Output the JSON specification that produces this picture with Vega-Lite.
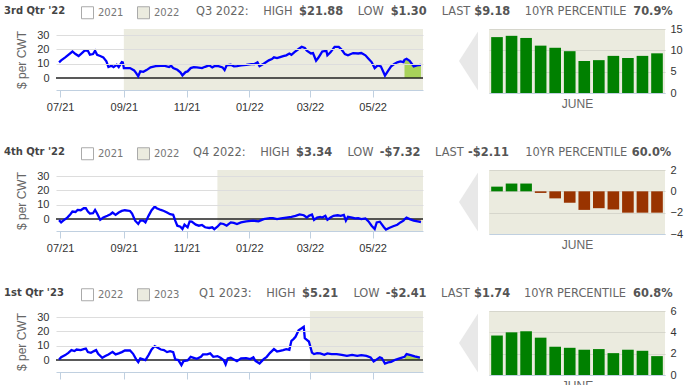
{
"$schema": "https://vega.github.io/schema/vega-lite/v6.json",
"background": "#ffffff",
"padding": {"left": 4, "top": 5, "right": 5, "bottom": 0},
"config": {
  "view": {"stroke": null},
  "font": "Liberation Sans",
  "axis": {"labelFont": "Liberation Sans", "labelFontSize": 11, "labelColor": "#333333", "titleFont": "Liberation Sans", "titleFontSize": 12, "titleFontWeight": "normal", "titleColor": "#666666"}
},
"columns": 3,
"bounds": "flush",
"spacing": {"row": 77, "column": 23},
"resolve": {"scale": {"color": "independent"}, "legend": {"color": "independent"}},
"datasets": {
  "s1": [{"period": "2021", "date": "2021-06-27", "end": "2021-09-01"}, {"period": "2022", "date": "2021-09-01", "end": "2022-06-19"}],
  "s2": [{"period": "2021", "date": "2021-06-27", "end": "2021-12-01"}, {"period": "2022", "date": "2021-12-01", "end": "2022-06-19"}],
  "s3": [{"period": "2022", "date": "2021-06-27", "end": "2022-03-01"}, {"period": "2023", "date": "2022-03-01", "end": "2022-06-19"}],
  "b1": [{"yr": 2011, "v": 13.1}, {"yr": 2012, "v": 13.4}, {"yr": 2013, "v": 12.9}, {"yr": 2014, "v": 11.1}, {"yr": 2015, "v": 10.6}, {"yr": 2016, "v": 9.8}, {"yr": 2017, "v": 7.5}, {"yr": 2018, "v": 7.7}, {"yr": 2019, "v": 8.7}, {"yr": 2020, "v": 8.2}, {"yr": 2021, "v": 8.7}, {"yr": 2022, "v": 9.3}],
  "b2": [{"yr": 2011, "v": 0.44}, {"yr": 2012, "v": 0.73}, {"yr": 2013, "v": 0.73}, {"yr": 2014, "v": -0.15}, {"yr": 2015, "v": -0.66}, {"yr": 2016, "v": -1.07}, {"yr": 2017, "v": -1.74}, {"yr": 2018, "v": -1.58}, {"yr": 2019, "v": -1.7}, {"yr": 2020, "v": -2.0}, {"yr": 2021, "v": -2.0}, {"yr": 2022, "v": -2.0}],
  "b3": [{"yr": 2011, "v": 3.7}, {"yr": 2012, "v": 4.0}, {"yr": 2013, "v": 4.1}, {"yr": 2014, "v": 3.5}, {"yr": 2015, "v": 2.65}, {"yr": 2016, "v": 2.55}, {"yr": 2017, "v": 2.37}, {"yr": 2018, "v": 2.43}, {"yr": 2019, "v": 2.05}, {"yr": 2020, "v": 2.37}, {"yr": 2021, "v": 2.27}, {"yr": 2022, "v": 1.77}],
  "r1": [
    {"date": "2021-06-30", "v": 11.0}, {"date": "2021-07-02", "v": 12.4}, {"date": "2021-07-06", "v": 14.5}, {"date": "2021-07-09", "v": 16.3}, {"date": "2021-07-13", "v": 18.6}, {"date": "2021-07-16", "v": 16.8}, {"date": "2021-07-19", "v": 15.4}, {"date": "2021-07-23", "v": 18.0}, {"date": "2021-07-25", "v": 19.3}, {"date": "2021-07-28", "v": 19.1}, {"date": "2021-07-30", "v": 16.3},
    {"date": "2021-08-02", "v": 16.8}, {"date": "2021-08-04", "v": 19.1}, {"date": "2021-08-06", "v": 16.3}, {"date": "2021-08-09", "v": 15.4}, {"date": "2021-08-12", "v": 14.5}, {"date": "2021-08-15", "v": 11.7}, {"date": "2021-08-17", "v": 7.7}, {"date": "2021-08-20", "v": 8.6}, {"date": "2021-08-22", "v": 7.7}, {"date": "2021-08-25", "v": 9.3}, {"date": "2021-08-27", "v": 7.7}, {"date": "2021-08-30", "v": 11.2}, {"date": "2021-08-31", "v": 11.0},
    {"date": "2021-09-01", "v": 7.0}, {"date": "2021-09-07", "v": 7.0}, {"date": "2021-09-11", "v": 5.4}, {"date": "2021-09-13", "v": 3.5}, {"date": "2021-09-15", "v": 1.3}, {"date": "2021-09-17", "v": 4.7}, {"date": "2021-09-20", "v": 4.4}, {"date": "2021-09-23", "v": 5.6}, {"date": "2021-09-27", "v": 7.5},
    {"date": "2021-10-02", "v": 8.4}, {"date": "2021-10-07", "v": 8.6}, {"date": "2021-10-11", "v": 8.6}, {"date": "2021-10-15", "v": 7.7}, {"date": "2021-10-17", "v": 8.6}, {"date": "2021-10-19", "v": 7.0}, {"date": "2021-10-23", "v": 5.8}, {"date": "2021-10-26", "v": 4.0}, {"date": "2021-10-28", "v": 1.9}, {"date": "2021-10-31", "v": 4.2},
    {"date": "2021-11-02", "v": 4.7}, {"date": "2021-11-05", "v": 7.0}, {"date": "2021-11-08", "v": 7.7}, {"date": "2021-11-11", "v": 7.5}, {"date": "2021-11-16", "v": 7.0}, {"date": "2021-11-19", "v": 7.9}, {"date": "2021-11-23", "v": 8.9}, {"date": "2021-11-26", "v": 7.5}, {"date": "2021-11-29", "v": 8.6},
    {"date": "2021-12-02", "v": 8.4}, {"date": "2021-12-06", "v": 7.5}, {"date": "2021-12-08", "v": 5.6}, {"date": "2021-12-10", "v": 8.9}, {"date": "2021-12-14", "v": 9.3}, {"date": "2021-12-17", "v": 8.2}, {"date": "2021-12-20", "v": 8.4}, {"date": "2021-12-24", "v": 8.9}, {"date": "2021-12-29", "v": 9.3},
    {"date": "2022-01-03", "v": 9.8}, {"date": "2022-01-06", "v": 9.8}, {"date": "2022-01-09", "v": 11.0}, {"date": "2022-01-11", "v": 8.4}, {"date": "2022-01-15", "v": 10.0}, {"date": "2022-01-20", "v": 12.4}, {"date": "2022-01-23", "v": 13.3}, {"date": "2022-01-25", "v": 14.5}, {"date": "2022-01-28", "v": 14.0}, {"date": "2022-01-31", "v": 14.7},
    {"date": "2022-02-03", "v": 15.4}, {"date": "2022-02-06", "v": 15.9}, {"date": "2022-02-09", "v": 17.2}, {"date": "2022-02-11", "v": 16.3}, {"date": "2022-02-14", "v": 18.2}, {"date": "2022-02-18", "v": 20.3}, {"date": "2022-02-21", "v": 21.88}, {"date": "2022-02-24", "v": 21.0}, {"date": "2022-02-26", "v": 19.1},
    {"date": "2022-03-02", "v": 17.2}, {"date": "2022-03-04", "v": 17.5}, {"date": "2022-03-07", "v": 12.1}, {"date": "2022-03-09", "v": 14.0}, {"date": "2022-03-11", "v": 16.3}, {"date": "2022-03-13", "v": 18.6}, {"date": "2022-03-17", "v": 19.1}, {"date": "2022-03-18", "v": 15.9}, {"date": "2022-03-21", "v": 18.0}, {"date": "2022-03-25", "v": 21.8}, {"date": "2022-03-29", "v": 21.8},
    {"date": "2022-04-01", "v": 19.8}, {"date": "2022-04-04", "v": 16.8}, {"date": "2022-04-07", "v": 15.9}, {"date": "2022-04-12", "v": 17.5}, {"date": "2022-04-17", "v": 17.2}, {"date": "2022-04-20", "v": 17.5}, {"date": "2022-04-24", "v": 15.9}, {"date": "2022-04-27", "v": 13.5}, {"date": "2022-04-30", "v": 11.2},
    {"date": "2022-05-03", "v": 7.0}, {"date": "2022-05-06", "v": 8.9}, {"date": "2022-05-09", "v": 8.2}, {"date": "2022-05-13", "v": 1.8}, {"date": "2022-05-16", "v": 5.1}, {"date": "2022-05-19", "v": 8.2}, {"date": "2022-05-22", "v": 9.8}, {"date": "2022-05-25", "v": 11.0}, {"date": "2022-05-28", "v": 11.7}, {"date": "2022-05-31", "v": 11.2},
    {"date": "2022-06-01", "v": 12.8}, {"date": "2022-06-03", "v": 13.5}, {"date": "2022-06-06", "v": 12.1}, {"date": "2022-06-10", "v": 8.2}, {"date": "2022-06-13", "v": 8.9}, {"date": "2022-06-17", "v": 9.18}
  ],
  "r2": [
    {"date": "2021-06-30", "v": -0.7}, {"date": "2021-07-02", "v": -2.3}, {"date": "2021-07-04", "v": -1.1}, {"date": "2021-07-08", "v": 1.1}, {"date": "2021-07-11", "v": 3.4}, {"date": "2021-07-13", "v": 5.3}, {"date": "2021-07-16", "v": 5.0}, {"date": "2021-07-18", "v": 6.4}, {"date": "2021-07-21", "v": 6.2}, {"date": "2021-07-24", "v": 7.6}, {"date": "2021-07-26", "v": 7.6}, {"date": "2021-07-28", "v": 5.3}, {"date": "2021-07-30", "v": 3.9},
    {"date": "2021-08-02", "v": 4.1}, {"date": "2021-08-04", "v": 6.4}, {"date": "2021-08-06", "v": 3.9}, {"date": "2021-08-09", "v": -0.5}, {"date": "2021-08-12", "v": 1.1}, {"date": "2021-08-16", "v": 2.3}, {"date": "2021-08-19", "v": 3.4}, {"date": "2021-08-21", "v": 4.6}, {"date": "2021-08-24", "v": 3.0}, {"date": "2021-08-27", "v": 4.6}, {"date": "2021-08-30", "v": 5.7},
    {"date": "2021-09-02", "v": 6.2}, {"date": "2021-09-07", "v": 5.7}, {"date": "2021-09-09", "v": 3.9}, {"date": "2021-09-12", "v": -1.1}, {"date": "2021-09-15", "v": -3.4}, {"date": "2021-09-17", "v": -1.1}, {"date": "2021-09-20", "v": -1.1}, {"date": "2021-09-22", "v": -2.3}, {"date": "2021-09-25", "v": 2.3}, {"date": "2021-09-28", "v": 6.2},
    {"date": "2021-10-01", "v": 8.7}, {"date": "2021-10-03", "v": 7.6}, {"date": "2021-10-07", "v": 6.4}, {"date": "2021-10-10", "v": 5.7}, {"date": "2021-10-13", "v": 4.6}, {"date": "2021-10-16", "v": 3.4}, {"date": "2021-10-19", "v": 3.0}, {"date": "2021-10-21", "v": -1.1}, {"date": "2021-10-23", "v": -4.6}, {"date": "2021-10-26", "v": -5.3}, {"date": "2021-10-28", "v": -6.9}, {"date": "2021-10-30", "v": -3.9},
    {"date": "2021-11-02", "v": -5.7}, {"date": "2021-11-04", "v": -1.6}, {"date": "2021-11-06", "v": -1.8}, {"date": "2021-11-10", "v": -3.9}, {"date": "2021-11-13", "v": -4.6}, {"date": "2021-11-16", "v": -4.1}, {"date": "2021-11-19", "v": -5.7}, {"date": "2021-11-23", "v": -6.2}, {"date": "2021-11-26", "v": -5.7}, {"date": "2021-11-28", "v": -7.0},
    {"date": "2021-12-01", "v": -5.3}, {"date": "2021-12-04", "v": -3.0}, {"date": "2021-12-07", "v": -3.4}, {"date": "2021-12-10", "v": -4.6}, {"date": "2021-12-14", "v": -2.3}, {"date": "2021-12-17", "v": -2.7}, {"date": "2021-12-20", "v": -3.4}, {"date": "2021-12-24", "v": -2.3}, {"date": "2021-12-29", "v": -1.6},
    {"date": "2022-01-05", "v": -1.1}, {"date": "2022-01-10", "v": -1.6}, {"date": "2022-01-15", "v": 0.0}, {"date": "2022-01-21", "v": 0.7}, {"date": "2022-01-24", "v": 0.7}, {"date": "2022-01-28", "v": 0.0},
    {"date": "2022-02-01", "v": 0.5}, {"date": "2022-02-06", "v": 1.1}, {"date": "2022-02-11", "v": 1.6}, {"date": "2022-02-15", "v": 2.3}, {"date": "2022-02-19", "v": 3.34}, {"date": "2022-02-23", "v": 2.7}, {"date": "2022-02-26", "v": 1.1}, {"date": "2022-02-28", "v": 2.3},
    {"date": "2022-03-03", "v": 3.2}, {"date": "2022-03-05", "v": -0.5}, {"date": "2022-03-08", "v": 1.1}, {"date": "2022-03-11", "v": 1.6}, {"date": "2022-03-13", "v": 1.1}, {"date": "2022-03-16", "v": 2.3}, {"date": "2022-03-18", "v": -0.5}, {"date": "2022-03-21", "v": 1.1}, {"date": "2022-03-24", "v": 2.3}, {"date": "2022-03-28", "v": 2.7}, {"date": "2022-03-31", "v": 2.3},
    {"date": "2022-04-03", "v": 3.0}, {"date": "2022-04-05", "v": -1.1}, {"date": "2022-04-07", "v": 1.6}, {"date": "2022-04-11", "v": 1.1}, {"date": "2022-04-14", "v": 0.5}, {"date": "2022-04-17", "v": 0.7}, {"date": "2022-04-20", "v": 0.0}, {"date": "2022-04-24", "v": 0.5}, {"date": "2022-04-27", "v": -1.6}, {"date": "2022-04-30", "v": -4.6},
    {"date": "2022-05-03", "v": -6.9}, {"date": "2022-05-05", "v": -2.3}, {"date": "2022-05-08", "v": -1.8}, {"date": "2022-05-12", "v": -5.7}, {"date": "2022-05-14", "v": -7.32}, {"date": "2022-05-17", "v": -6.2}, {"date": "2022-05-21", "v": -5.0}, {"date": "2022-05-25", "v": -3.9}, {"date": "2022-05-28", "v": -2.3}, {"date": "2022-05-31", "v": -1.1},
    {"date": "2022-06-01", "v": -0.2}, {"date": "2022-06-03", "v": 1.1}, {"date": "2022-06-06", "v": 0.0}, {"date": "2022-06-10", "v": -1.1}, {"date": "2022-06-15", "v": -1.8}, {"date": "2022-06-17", "v": -2.11}
  ],
  "r3": [
    {"date": "2021-06-30", "v": 0.5}, {"date": "2021-07-02", "v": 2.1}, {"date": "2021-07-06", "v": 3.5}, {"date": "2021-07-09", "v": 5.1}, {"date": "2021-07-12", "v": 7.0}, {"date": "2021-07-15", "v": 6.3}, {"date": "2021-07-17", "v": 7.4}, {"date": "2021-07-21", "v": 7.0}, {"date": "2021-07-24", "v": 7.7}, {"date": "2021-07-26", "v": 8.1}, {"date": "2021-07-28", "v": 5.6}, {"date": "2021-07-31", "v": 5.1},
    {"date": "2021-08-03", "v": 6.3}, {"date": "2021-08-05", "v": 7.0}, {"date": "2021-08-07", "v": 4.4}, {"date": "2021-08-11", "v": 1.6}, {"date": "2021-08-14", "v": 2.8}, {"date": "2021-08-17", "v": 4.0}, {"date": "2021-08-21", "v": 5.8}, {"date": "2021-08-24", "v": 4.0}, {"date": "2021-08-27", "v": 4.7}, {"date": "2021-08-30", "v": 5.6},
    {"date": "2021-09-02", "v": 6.7}, {"date": "2021-09-07", "v": 6.7}, {"date": "2021-09-10", "v": 4.4}, {"date": "2021-09-13", "v": 0.5}, {"date": "2021-09-15", "v": -1.4}, {"date": "2021-09-17", "v": 1.2}, {"date": "2021-09-22", "v": 0.0}, {"date": "2021-09-25", "v": 3.5}, {"date": "2021-09-28", "v": 7.4},
    {"date": "2021-10-01", "v": 9.8}, {"date": "2021-10-04", "v": 8.6}, {"date": "2021-10-07", "v": 7.4}, {"date": "2021-10-10", "v": 7.0}, {"date": "2021-10-13", "v": 5.6}, {"date": "2021-10-16", "v": 6.3}, {"date": "2021-10-19", "v": 5.6}, {"date": "2021-10-21", "v": 0.5}, {"date": "2021-10-24", "v": 0.0}, {"date": "2021-10-27", "v": -3.5}, {"date": "2021-10-29", "v": -0.7},
    {"date": "2021-11-02", "v": -0.2}, {"date": "2021-11-05", "v": 2.3}, {"date": "2021-11-08", "v": 1.6}, {"date": "2021-11-11", "v": 0.9}, {"date": "2021-11-15", "v": 2.3}, {"date": "2021-11-17", "v": 4.0}, {"date": "2021-11-21", "v": 4.0}, {"date": "2021-11-24", "v": 4.7}, {"date": "2021-11-27", "v": 2.3},
    {"date": "2021-12-01", "v": 2.8}, {"date": "2021-12-04", "v": 1.6}, {"date": "2021-12-07", "v": 0.0}, {"date": "2021-12-09", "v": -3.0}, {"date": "2021-12-11", "v": 1.2}, {"date": "2021-12-14", "v": 1.6}, {"date": "2021-12-17", "v": 0.5}, {"date": "2021-12-20", "v": -0.7}, {"date": "2021-12-24", "v": 1.2}, {"date": "2021-12-29", "v": 1.4},
    {"date": "2022-01-02", "v": 0.7}, {"date": "2022-01-05", "v": 1.9}, {"date": "2022-01-07", "v": -0.5}, {"date": "2022-01-11", "v": -2.3}, {"date": "2022-01-15", "v": 0.7}, {"date": "2022-01-18", "v": 2.3}, {"date": "2022-01-21", "v": 4.9}, {"date": "2022-01-25", "v": 7.7}, {"date": "2022-01-28", "v": 6.0}, {"date": "2022-01-31", "v": 6.5},
    {"date": "2022-02-03", "v": 7.0}, {"date": "2022-02-06", "v": 7.7}, {"date": "2022-02-09", "v": 7.2}, {"date": "2022-02-11", "v": 13.5}, {"date": "2022-02-13", "v": 14.7}, {"date": "2022-02-15", "v": 16.3}, {"date": "2022-02-18", "v": 20.9}, {"date": "2022-02-21", "v": 22.3}, {"date": "2022-02-23", "v": 23.3}, {"date": "2022-02-24", "v": 15.3}, {"date": "2022-02-26", "v": 14.2}, {"date": "2022-02-28", "v": 13.0},
    {"date": "2022-03-03", "v": 5.21}, {"date": "2022-03-05", "v": 4.2}, {"date": "2022-03-08", "v": 4.9}, {"date": "2022-03-11", "v": 4.7}, {"date": "2022-03-15", "v": 3.7}, {"date": "2022-03-18", "v": 4.7}, {"date": "2022-03-22", "v": 4.2}, {"date": "2022-03-27", "v": 4.2},
    {"date": "2022-04-01", "v": 3.7}, {"date": "2022-04-06", "v": 3.0}, {"date": "2022-04-11", "v": 3.7}, {"date": "2022-04-16", "v": 3.0}, {"date": "2022-04-20", "v": 3.5}, {"date": "2022-04-25", "v": 3.0}, {"date": "2022-04-29", "v": 1.9},
    {"date": "2022-05-02", "v": -0.9}, {"date": "2022-05-04", "v": 0.0}, {"date": "2022-05-08", "v": 1.9}, {"date": "2022-05-10", "v": 1.4}, {"date": "2022-05-13", "v": -2.41}, {"date": "2022-05-16", "v": -1.6}, {"date": "2022-05-19", "v": -1.2}, {"date": "2022-05-23", "v": 0.2}, {"date": "2022-05-28", "v": 1.4},
    {"date": "2022-06-01", "v": 2.3}, {"date": "2022-06-03", "v": 4.2}, {"date": "2022-06-07", "v": 3.5}, {"date": "2022-06-11", "v": 2.6}, {"date": "2022-06-16", "v": 1.74}
  ]
},
"concat": [
  {
    "width": 367, "height": 61,
    "resolve": {"axis": {"x": "independent", "y": "independent"}},
    "layer": [
      {"data": {"name": "s1"}, "mark": {"type": "rect"},
       "encoding": {
         "x": {"field": "date", "type": "temporal", "scale": {"type": "utc", "domain": [{"year": 2021, "month": 6, "date": 27, "utc": true}, {"year": 2022, "month": 6, "date": 19, "utc": true}]},
               "axis": {"title": null, "values": [{"year": 2021, "month": 7, "date": 1, "utc": true}, {"year": 2021, "month": 9, "date": 1, "utc": true}, {"year": 2021, "month": 11, "date": 1, "utc": true}, {"year": 2022, "month": 1, "date": 1, "utc": true}, {"year": 2022, "month": 3, "date": 1, "utc": true}, {"year": 2022, "month": 5, "date": 1, "utc": true}], "labelExpr": "utcFormat(datum.value, '%m/%y')", "grid": false, "domainColor": "#c0d0e0", "tickColor": "#c0d0e0", "tickSize": 7, "labelPadding": 4, "labelFlush": false, "labelOverlap": false}},
         "x2": {"field": "end"},
         "color": {"field": "period", "type": "nominal", "scale": {"domain": ["2021", "2022"], "range": ["#ffffff", "#ebebdf"]},
                   "legend": {"orient": "none", "legendX": 25, "legendY": -23, "direction": "horizontal", "title": null, "symbolType": "square", "symbolSize": 144, "labelFont": "DejaVu Sans", "labelFontSize": 10, "labelColor": "#777777", "columnPadding": 11, "labelOffset": 4, "padding": 0, "symbolStrokeColor": "#aaaaaa", "symbolStrokeWidth": 1, "encode": {"symbols": {"update": {"stroke": {"value": "#aaaaaa"}, "strokeWidth": {"value": 1}}}}}}
       }},
      {"data": {"name": "r1"}, "transform": [{"filter": {"field": "date", "gte": {"year": 2022, "month": 6, "date": 1, "utc": true}}}],
       "mark": {"type": "area", "color": "#a8d25a", "opacity": 1},
       "encoding": {
         "x": {"field": "date", "type": "temporal", "axis": null},
         "y": {"field": "v", "type": "quantitative", "axis": null, "scale": {"domain": [-8.3, 34.3], "nice": false, "zero": false}},
         "y2": {"datum": 0}
       }},
      {"data": {"values": [{"z": 0}]}, "mark": {"type": "rule", "color": "#222222", "strokeWidth": 1.5},
       "encoding": {"y": {"datum": 0, "type": "quantitative", "axis": null}}},
      {"data": {"name": "r1"}, "mark": {"type": "line", "color": "#0000ff", "strokeWidth": 2.3},
       "encoding": {
         "x": {"field": "date", "type": "temporal", "axis": null},
         "y": {"field": "v", "type": "quantitative", "scale": {"domain": [-8.3, 34.3], "nice": false, "zero": false},
               "axis": {"title": "$ per CWT", "values": [0, 10, 20, 30], "grid": true, "gridColor": {"condition": {"test": "datum.value === 0", "value": "transparent"}, "value": "#dddddd"}, "domain": false, "ticks": false, "tickSize": 0, "labelPadding": 7, "titlePadding": 8, "labelOverlap": false, "zindex": 1}}
       }}
    ]
  },
  {
    "width": 20, "height": 64,
    "data": {"values": [{"k": 1}]},
    "mark": {"type": "point", "shape": "M0.102,0L0.746,-1L0.746,1Z", "filled": true, "color": "#e8e8e8", "size": 3481, "opacity": 1, "strokeWidth": 0},
    "encoding": {},
    "title": {"text": "3rd Qtr '22", "anchor": "start", "frame": "group", "dx": -442, "offset": 13, "font": "DejaVu Sans", "fontSize": 10, "fontWeight": "bold", "color": "#444444"}
  },
  {
    "width": 176, "height": 64,
    "data": {"name": "b1"},
    "view": {"fill": "#ebebdf", "stroke": null},
    "mark": {"type": "bar", "color": "#008000"},
    "encoding": {
      "x": {"field": "yr", "type": "ordinal", "scale": {"paddingInner": 0.2, "paddingOuter": 0.15}, "axis": {"title": "JUNE", "labels": false, "ticks": false, "domainColor": "#c0d0e0", "titlePadding": 5}},
      "y": {"field": "v", "type": "quantitative", "scale": {"domain": [0, 15], "nice": false}, "axis": {"orient": "right", "title": null, "values": [0, 5, 10, 15], "domain": false, "ticks": false, "tickSize": 0, "labelPadding": 5, "grid": true, "gridColor": "#d6d6cc"}}
    },
    "title": {"text": "Q3 2022:\u00a0\u00a0\u00a0\u00a0HIGH\u00a0\u00a0\u00a0\u00a0\u00a0\u00a0\u00a0\u00a0\u00a0\u00a0\u00a0\u00a0\u00a0\u00a0\u00a0\u00a0\u00a0\u00a0LOW\u00a0\u00a0\u00a0\u00a0\u00a0\u00a0\u00a0\u00a0\u00a0\u00a0\u00a0\u00a0\u00a0\u00a0\u00a0\u00a0LAST\u00a0\u00a0\u00a0\u00a0\u00a0\u00a0\u00a0\u00a0\u00a0\u00a0\u00a0\u00a0\u00a0\u00a0\u00a010YR PERCENTILE",
              "subtitle": "\u200b\u00a0\u00a0\u00a0\u00a0\u00a0\u00a0\u00a0\u00a0\u00a0\u00a0\u00a0\u00a0\u00a0\u00a0\u00a0\u00a0\u00a0\u00a0\u00a0\u00a0\u00a0\u00a0\u00a0\u00a0\u00a0\u00a0$21.88\u00a0\u00a0\u00a0\u00a0\u00a0\u00a0\u00a0\u00a0\u00a0\u00a0\u00a0\u00a0$1.30\u00a0\u00a0\u00a0\u00a0\u00a0\u00a0\u00a0\u00a0\u00a0\u00a0\u00a0\u00a0$9.18\u00a0\u00a0\u00a0\u00a0\u00a0\u00a0\u00a0\u00a0\u00a0\u00a0\u00a0\u00a0\u00a0\u00a0\u00a0\u00a0\u00a0\u00a0\u00a0\u00a0\u00a0\u00a0\u00a0\u00a0\u00a0\u00a0\u00a0\u00a0\u00a0\u00a0\u00a070.9%",
              "anchor": "start", "frame": "group", "dx": -293, "offset": 6, "font": "DejaVu Sans", "fontSize": 11.4, "fontWeight": "normal", "color": "#666666", "subtitleFont": "DejaVu Sans", "subtitleFontSize": 11.4, "subtitleFontWeight": "bold", "subtitleColor": "#555555", "subtitlePadding": -11.4}
  },
  {
    "width": 367, "height": 61,
    "resolve": {"axis": {"x": "independent", "y": "independent"}},
    "layer": [
      {"data": {"name": "s2"}, "mark": {"type": "rect"},
       "encoding": {
         "x": {"field": "date", "type": "temporal", "scale": {"type": "utc", "domain": [{"year": 2021, "month": 6, "date": 27, "utc": true}, {"year": 2022, "month": 6, "date": 19, "utc": true}]},
               "axis": {"title": null, "values": [{"year": 2021, "month": 7, "date": 1, "utc": true}, {"year": 2021, "month": 9, "date": 1, "utc": true}, {"year": 2021, "month": 11, "date": 1, "utc": true}, {"year": 2022, "month": 1, "date": 1, "utc": true}, {"year": 2022, "month": 3, "date": 1, "utc": true}, {"year": 2022, "month": 5, "date": 1, "utc": true}], "labelExpr": "utcFormat(datum.value, '%m/%y')", "grid": false, "domainColor": "#c0d0e0", "tickColor": "#c0d0e0", "tickSize": 7, "labelPadding": 4, "labelFlush": false, "labelOverlap": false}},
         "x2": {"field": "end"},
         "color": {"field": "period", "type": "nominal", "scale": {"domain": ["2021", "2022"], "range": ["#ffffff", "#ebebdf"]},
                   "legend": {"orient": "none", "legendX": 25, "legendY": -23, "direction": "horizontal", "title": null, "symbolType": "square", "symbolSize": 144, "labelFont": "DejaVu Sans", "labelFontSize": 10, "labelColor": "#777777", "columnPadding": 11, "labelOffset": 4, "padding": 0, "symbolStrokeColor": "#aaaaaa", "symbolStrokeWidth": 1, "encode": {"symbols": {"update": {"stroke": {"value": "#aaaaaa"}, "strokeWidth": {"value": 1}}}}}}
       }},
      {"data": {"name": "r2"}, "transform": [{"filter": {"field": "date", "gte": {"year": 2022, "month": 6, "date": 1, "utc": true}}}],
       "mark": {"type": "area", "color": "#d9a06b", "opacity": 1},
       "encoding": {
         "x": {"field": "date", "type": "temporal", "axis": null},
         "y": {"field": "v", "type": "quantitative", "axis": null, "scale": {"domain": [-8.3, 34.3], "nice": false, "zero": false}},
         "y2": {"datum": 0}
       }},
      {"data": {"values": [{"z": 0}]}, "mark": {"type": "rule", "color": "#222222", "strokeWidth": 1.5},
       "encoding": {"y": {"datum": 0, "type": "quantitative", "axis": null}}},
      {"data": {"name": "r2"}, "mark": {"type": "line", "color": "#0000ff", "strokeWidth": 2.3},
       "encoding": {
         "x": {"field": "date", "type": "temporal", "axis": null},
         "y": {"field": "v", "type": "quantitative", "scale": {"domain": [-8.3, 34.3], "nice": false, "zero": false},
               "axis": {"title": "$ per CWT", "values": [0, 10, 20, 30], "grid": true, "gridColor": {"condition": {"test": "datum.value === 0", "value": "transparent"}, "value": "#dddddd"}, "domain": false, "ticks": false, "tickSize": 0, "labelPadding": 7, "titlePadding": 8, "labelOverlap": false, "zindex": 1}}
       }}
    ]
  },
  {
    "width": 20, "height": 64,
    "data": {"values": [{"k": 1}]},
    "mark": {"type": "point", "shape": "M0.102,0L0.746,-1L0.746,1Z", "filled": true, "color": "#e8e8e8", "size": 3481, "opacity": 1, "strokeWidth": 0},
    "encoding": {},
    "title": {"text": "4th Qtr '22", "anchor": "start", "frame": "group", "dx": -442, "offset": 13, "font": "DejaVu Sans", "fontSize": 10, "fontWeight": "bold", "color": "#444444"}
  },
  {
    "width": 176, "height": 64,
    "data": {"name": "b2"},
    "view": {"fill": "#ebebdf", "stroke": null},
    "mark": {"type": "bar"},
    "encoding": {
      "x": {"field": "yr", "type": "ordinal", "scale": {"paddingInner": 0.2, "paddingOuter": 0.15}, "axis": {"title": "JUNE", "labels": false, "ticks": false, "domainColor": "#c0d0e0", "titlePadding": 5}},
      "y": {"field": "v", "type": "quantitative", "scale": {"domain": [-4, 2], "nice": false}, "axis": {"orient": "right", "title": null, "values": [-4, -2, 0, 2], "domain": false, "ticks": false, "tickSize": 0, "labelPadding": 5, "grid": true, "gridColor": "#d6d6cc"}},
      "color": {"condition": {"test": "datum.v < 0", "value": "#993300"}, "value": "#008000"}
    },
    "title": {"text": "Q4 2022:\u00a0\u00a0\u00a0\u00a0HIGH\u00a0\u00a0\u00a0\u00a0\u00a0\u00a0\u00a0\u00a0\u00a0\u00a0\u00a0\u00a0\u00a0\u00a0\u00a0\u00a0LOW\u00a0\u00a0\u00a0\u00a0\u00a0\u00a0\u00a0\u00a0\u00a0\u00a0\u00a0\u00a0\u00a0\u00a0\u00a0\u00a0\u00a0LAST\u00a0\u00a0\u00a0\u00a0\u00a0\u00a0\u00a0\u00a0\u00a0\u00a0\u00a0\u00a0\u00a0\u00a0\u00a0\u00a0\u00a010YR PERCENTILE",
              "subtitle": "\u200b\u00a0\u00a0\u00a0\u00a0\u00a0\u00a0\u00a0\u00a0\u00a0\u00a0\u00a0\u00a0\u00a0\u00a0\u00a0\u00a0\u00a0\u00a0\u00a0\u00a0\u00a0\u00a0\u00a0\u00a0\u00a0\u00a0$3.34\u00a0\u00a0\u00a0\u00a0\u00a0\u00a0\u00a0\u00a0\u00a0\u00a0\u00a0\u00a0-$7.32\u00a0\u00a0\u00a0\u00a0\u00a0\u00a0\u00a0\u00a0\u00a0\u00a0\u00a0\u00a0-$2.11\u00a0\u00a0\u00a0\u00a0\u00a0\u00a0\u00a0\u00a0\u00a0\u00a0\u00a0\u00a0\u00a0\u00a0\u00a0\u00a0\u00a0\u00a0\u00a0\u00a0\u00a0\u00a0\u00a0\u00a0\u00a0\u00a0\u00a0\u00a0\u00a0\u00a0\u00a060.0%",
              "anchor": "start", "frame": "group", "dx": -296, "offset": 6, "font": "DejaVu Sans", "fontSize": 11.4, "fontWeight": "normal", "color": "#666666", "subtitleFont": "DejaVu Sans", "subtitleFontSize": 11.4, "subtitleFontWeight": "bold", "subtitleColor": "#555555", "subtitlePadding": -11.4}
  },
  {
    "width": 367, "height": 61,
    "resolve": {"axis": {"x": "independent", "y": "independent"}},
    "layer": [
      {"data": {"name": "s3"}, "mark": {"type": "rect"},
       "encoding": {
         "x": {"field": "date", "type": "temporal", "scale": {"type": "utc", "domain": [{"year": 2021, "month": 6, "date": 27, "utc": true}, {"year": 2022, "month": 6, "date": 19, "utc": true}]},
               "axis": {"title": null, "values": [{"year": 2021, "month": 7, "date": 1, "utc": true}, {"year": 2021, "month": 9, "date": 1, "utc": true}, {"year": 2021, "month": 11, "date": 1, "utc": true}, {"year": 2022, "month": 1, "date": 1, "utc": true}, {"year": 2022, "month": 3, "date": 1, "utc": true}, {"year": 2022, "month": 5, "date": 1, "utc": true}], "labelExpr": "utcFormat(datum.value, '%m/%y')", "grid": false, "domainColor": "#c0d0e0", "tickColor": "#c0d0e0", "tickSize": 7, "labelPadding": 4, "labelFlush": false, "labelOverlap": false}},
         "x2": {"field": "end"},
         "color": {"field": "period", "type": "nominal", "scale": {"domain": ["2022", "2023"], "range": ["#ffffff", "#ebebdf"]},
                   "legend": {"orient": "none", "legendX": 25, "legendY": -23, "direction": "horizontal", "title": null, "symbolType": "square", "symbolSize": 144, "labelFont": "DejaVu Sans", "labelFontSize": 10, "labelColor": "#777777", "columnPadding": 11, "labelOffset": 4, "padding": 0, "symbolStrokeColor": "#aaaaaa", "symbolStrokeWidth": 1, "encode": {"symbols": {"update": {"stroke": {"value": "#aaaaaa"}, "strokeWidth": {"value": 1}}}}}}
       }},
      {"data": {"name": "r3"}, "transform": [{"filter": {"field": "date", "gte": {"year": 2022, "month": 6, "date": 1, "utc": true}}}],
       "mark": {"type": "area", "color": "#a8d25a", "opacity": 1},
       "encoding": {
         "x": {"field": "date", "type": "temporal", "axis": null},
         "y": {"field": "v", "type": "quantitative", "axis": null, "scale": {"domain": [-8.3, 34.3], "nice": false, "zero": false}},
         "y2": {"datum": 0}
       }},
      {"data": {"values": [{"z": 0}]}, "mark": {"type": "rule", "color": "#222222", "strokeWidth": 1.5},
       "encoding": {"y": {"datum": 0, "type": "quantitative", "axis": null}}},
      {"data": {"name": "r3"}, "mark": {"type": "line", "color": "#0000ff", "strokeWidth": 2.3},
       "encoding": {
         "x": {"field": "date", "type": "temporal", "axis": null},
         "y": {"field": "v", "type": "quantitative", "scale": {"domain": [-8.3, 34.3], "nice": false, "zero": false},
               "axis": {"title": "$ per CWT", "values": [0, 10, 20, 30], "grid": true, "gridColor": {"condition": {"test": "datum.value === 0", "value": "transparent"}, "value": "#dddddd"}, "domain": false, "ticks": false, "tickSize": 0, "labelPadding": 7, "titlePadding": 8, "labelOverlap": false, "zindex": 1}}
       }}
    ]
  },
  {
    "width": 20, "height": 64,
    "data": {"values": [{"k": 1}]},
    "mark": {"type": "point", "shape": "M0.102,0L0.746,-1L0.746,1Z", "filled": true, "color": "#e8e8e8", "size": 3481, "opacity": 1, "strokeWidth": 0},
    "encoding": {},
    "title": {"text": "1st Qtr '23", "anchor": "start", "frame": "group", "dx": -442, "offset": 13, "font": "DejaVu Sans", "fontSize": 10, "fontWeight": "bold", "color": "#444444"}
  },
  {
    "width": 176, "height": 64,
    "data": {"name": "b3"},
    "view": {"fill": "#ebebdf", "stroke": null},
    "mark": {"type": "bar", "color": "#008000"},
    "encoding": {
      "x": {"field": "yr", "type": "ordinal", "scale": {"paddingInner": 0.2, "paddingOuter": 0.15}, "axis": {"title": "JUNE", "labels": false, "ticks": false, "domainColor": "#c0d0e0", "titlePadding": 5}},
      "y": {"field": "v", "type": "quantitative", "scale": {"domain": [0, 6], "nice": false}, "axis": {"orient": "right", "title": null, "values": [0, 2, 4, 6], "domain": false, "ticks": false, "tickSize": 0, "labelPadding": 5, "grid": true, "gridColor": "#d6d6cc"}}
    },
    "title": {"text": "Q1 2023:\u00a0\u00a0\u00a0\u00a0HIGH\u00a0\u00a0\u00a0\u00a0\u00a0\u00a0\u00a0\u00a0\u00a0\u00a0\u00a0\u00a0\u00a0\u00a0\u00a0\u00a0LOW\u00a0\u00a0\u00a0\u00a0\u00a0\u00a0\u00a0\u00a0\u00a0\u00a0\u00a0\u00a0\u00a0\u00a0\u00a0\u00a0\u00a0LAST\u00a0\u00a0\u00a0\u00a0\u00a0\u00a0\u00a0\u00a0\u00a0\u00a0\u00a0\u00a0\u00a0\u00a0\u00a010YR PERCENTILE",
              "subtitle": "\u200b\u00a0\u00a0\u00a0\u00a0\u00a0\u00a0\u00a0\u00a0\u00a0\u00a0\u00a0\u00a0\u00a0\u00a0\u00a0\u00a0\u00a0\u00a0\u00a0\u00a0\u00a0\u00a0\u00a0\u00a0\u00a0\u00a0$5.21\u00a0\u00a0\u00a0\u00a0\u00a0\u00a0\u00a0\u00a0\u00a0\u00a0\u00a0\u00a0-$2.41\u00a0\u00a0\u00a0\u00a0\u00a0\u00a0\u00a0\u00a0\u00a0\u00a0\u00a0\u00a0$1.74\u00a0\u00a0\u00a0\u00a0\u00a0\u00a0\u00a0\u00a0\u00a0\u00a0\u00a0\u00a0\u00a0\u00a0\u00a0\u00a0\u00a0\u00a0\u00a0\u00a0\u00a0\u00a0\u00a0\u00a0\u00a0\u00a0\u00a0\u00a0\u00a0\u00a0\u00a060.8%",
              "anchor": "start", "frame": "group", "dx": -290, "offset": 6, "font": "DejaVu Sans", "fontSize": 11.4, "fontWeight": "normal", "color": "#666666", "subtitleFont": "DejaVu Sans", "subtitleFontSize": 11.4, "subtitleFontWeight": "bold", "subtitleColor": "#555555", "subtitlePadding": -11.4}
  }
]
}
